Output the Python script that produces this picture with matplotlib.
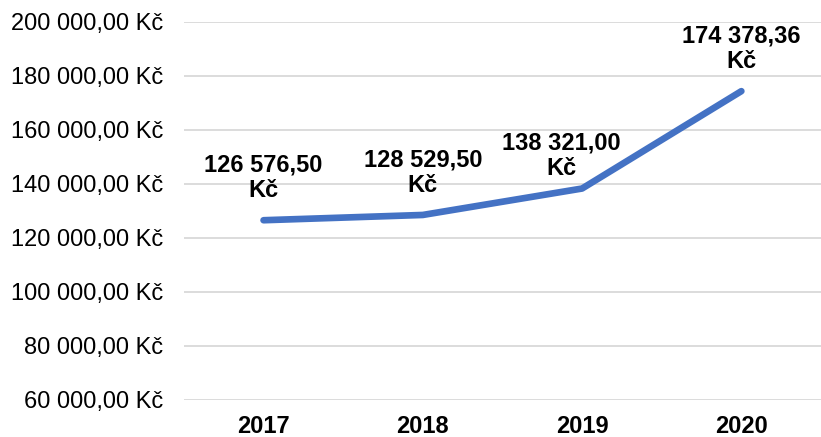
import matplotlib.pyplot as plt
from matplotlib.ticker import FuncFormatter

years = ['2017', '2018', '2019', '2020']
amounts = [126576.50, 128529.50, 138321.00, 174378.36]
y_ticks = [60000, 80000, 100000, 120000, 140000, 160000, 180000, 200000]


def czk(v, decimals=2):
    s = f"{v:,.{decimals}f}"
    return s.replace(',', ' ').replace('.', ',') + ' Kč'


plt.rcParams['font.family'] = ['Liberation Sans', 'DejaVu Sans']

fig = plt.figure(figsize=(8.21, 4.37), dpi=100)
ax = fig.add_axes([0.224, 0.0847, 0.776, 0.865])

x = list(range(len(years)))
ax.plot(x, amounts, color='#4472C4', linewidth=4.8, solid_capstyle='round',
        solid_joinstyle='round', zorder=3)

# label offsets in points (Excel nudged the 2019 label left)
offsets = {2: (-15, 6)}
for i, v in enumerate(amounts):
    dx, dy = offsets.get(i, (0, 13))
    ax.annotate(czk(v).replace(' Kč', '\nKč'), (i, v), xytext=(dx, dy),
                textcoords='offset points', ha='center', va='bottom',
                fontsize=17, fontweight='bold', linespacing=1.15,
                annotation_clip=False)

ax.set_xlim(-0.5, len(years) - 0.5)
ax.set_ylim(y_ticks[0], y_ticks[-1])
ax.set_xticks(x)
ax.set_xticklabels(years, fontsize=17, fontweight='bold')
ax.set_yticks(y_ticks)
ax.yaxis.set_major_formatter(FuncFormatter(lambda v, p: czk(v)))
ax.tick_params(axis='y', length=0, pad=15, labelsize=17)
ax.tick_params(axis='x', length=0, pad=11)

ax.grid(axis='y', color='#D9D9D9', linewidth=1.3)
ax.set_axisbelow(True)
for spine in ax.spines.values():
    spine.set_visible(False)

fig.savefig('out.png', dpi=100)
